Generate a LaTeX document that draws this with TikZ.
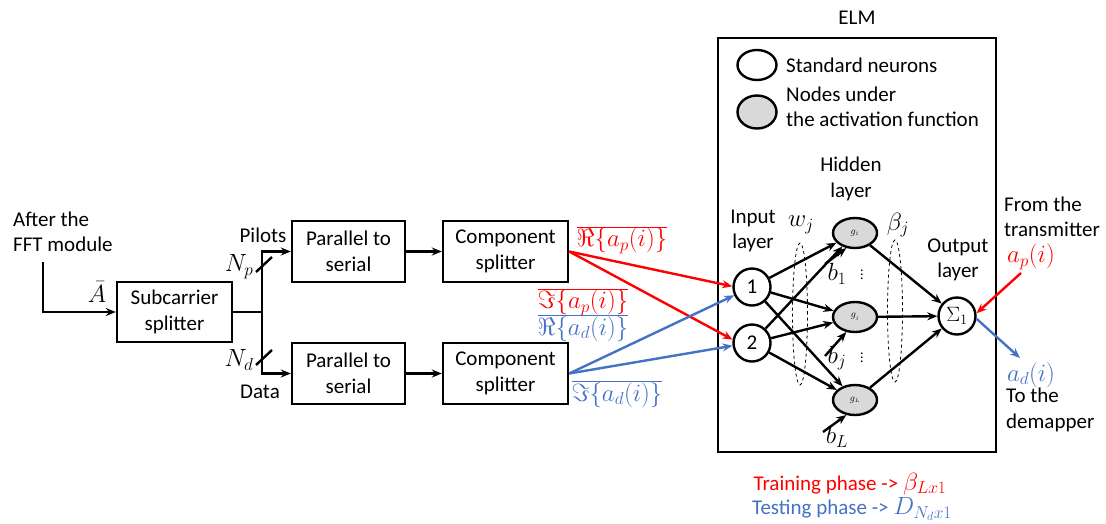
\documentclass[tikz,border=0pt]{standalone}
\usepackage{fontspec}
\setmainfont{Carlito}
\usetikzlibrary{arrows.meta,shapes.geometric}
\definecolor{myblue}{RGB}{68,114,196}
\definecolor{hidgray}{RGB}{217,217,217}
\begin{document}
\begin{tikzpicture}[x=1pt,y=-1pt,
  every node/.style={font=\fontsize{21}{25.5}\selectfont},
  box/.style={draw,line width=2.4pt,align=center,inner sep=0pt,minimum height=61pt},
  ln/.style={line width=2.4pt},
  ar/.style={-{Stealth[length=10pt,width=8pt]},line width=2.4pt},
  neu/.style={draw,line width=2.4pt,circle,minimum size=37pt,inner sep=0pt},
  hid/.style={draw,line width=2.4pt,ellipse,fill=hidgray,minimum width=44pt,minimum height=30pt,inner sep=0pt,font=\fontsize{10}{12}\selectfont},
  dash ell/.style={draw,dashed,line width=0.8pt,ellipse,minimum width=15pt,minimum height=142pt,inner sep=0pt},
  lbl/.style={inner sep=1pt},
  mth/.style={inner sep=1pt,font=\fontsize{23}{27}\selectfont},
  dts/.style={inner sep=0pt,font=\fontsize{14}{16}\selectfont}
]
\useasboundingbox (0,0) rectangle (1106,523);

% left input
\node[lbl,anchor=west,align=left] (fftlbl) at (12,232) {After the\\FFT module};
\coordinate (fftin) at (43,262);
\node[box,minimum width=115pt,minimum height=60pt] (ss) at (174.5,312) {Subcarrier\\splitter};
\draw[ar] (fftin) |- (ss.west);
\node[mth] (abar) at (97,292) {$\bar{A}$};

% branching
\coordinate (j) at (262,312);
\node[box,minimum width=113pt] (ps1) at (348.5,251.5) {Parallel to\\serial};
\node[box,minimum width=113pt] (ps2) at (348.5,373.5) {Parallel to\\serial};
\node[box,minimum width=125pt] (cs1) at (505.5,251.5) {Component\\splitter};
\node[box,minimum width=125pt] (cs2) at (505.5,373.5) {Component\\splitter};
\draw[ln] (ss.east) -- (j);
\draw[ar] (j) |- (ps1.west);
\draw[ar] (j) |- (ps2.west);
\draw[ar] (ps1.east) -- (cs1.west);
\draw[ar] (ps2.east) -- (cs2.west);

% slashes and labels
\coordinate (s1a) at (256,272); \coordinate (s1b) at (272,257);
\coordinate (s2a) at (256,365); \coordinate (s2b) at (272,350);
\draw[ln] (s1a) -- (s1b);
\draw[ln] (s2a) -- (s2b);
\node[mth] (nplbl) at (239,267) {$N_p$};
\node[mth] (ndlbl) at (239,360) {$N_d$};
\node[lbl] (pilots) at (263,235) {Pilots};
\node[lbl] (data) at (260,392) {Data};

% ELM box
\node[draw,line width=2.4pt,minimum width=278pt,minimum height=414pt,inner sep=0pt] (elm) at (857,245) {};
\node[lbl] (elmlbl) at (857,18) {ELM};

% legend
\node[neu,ellipse,minimum width=39pt,minimum height=30pt] (legw) at (757,65) {};
\node[hid,minimum width=39pt,minimum height=33pt] (legg) at (757,112) {};
\node[lbl,anchor=west] (legwt) at (785,65) {Standard neurons};
\node[lbl,anchor=west,align=left] (leggt) at (785,107) {Nodes under\\the activation function};

% layer labels
\node[lbl,align=center] (hidlbl) at (851,179) {Hidden\\layer};
\node[lbl,align=center] (inlbl) at (753,231) {Input\\layer};
\node[lbl,align=center] (outlbl) at (958,260) {Output\\layer};

% neurons
\node[neu] (n1) at (752,287) {1};
\node[neu] (n2) at (752,343) {2};
\node[hid] (g1) at (855,233) {$g_{\scriptscriptstyle 1}$};
\node[hid] (gj) at (855,317) {$g_{\scriptscriptstyle j}$};
\node[hid] (gL) at (855,400) {$g_{\scriptscriptstyle L}$};
\node[neu] (sig) at (957,316) {$\Sigma_1$};

\foreach \a in {n1,n2}{
  \foreach \b in {g1,gj,gL}{
    \draw[ar] (\a) -- (\b);
  }
}
\foreach \b in {g1,gj,gL}{
  \draw[ar] (\b) -- (sig);
}

% dashed ellipses and weight labels
\node[dash ell] (wel) at (800,314) {};
\node[dash ell] (bel) at (895,311) {};
\node[mth] (wlbl) at (801,225) {$w_j$};
\node[mth] (betalbl) at (898,225) {$\beta_j$};

% biases
\coordinate (b1s) at (825,264);
\coordinate (bjs) at (825,356);
\coordinate (bLs) at (823,432);
\draw[ar] (b1s) -- (g1.240);
\draw[ar] (bjs) -- (gj.240);
\draw[ar] (bLs) -- (gL.240);
\node[mth] (b1lbl) at (837,274) {$b_1$};
\node[mth] (bjlbl) at (837,358) {$b_j$};
\node[mth] (bLlbl) at (837,437) {$b_L$};
\node[dts] (dots1) at (862,272) {$\vdots$};
\node[dts] (dots2) at (862,355) {$\vdots$};

% red / blue signals
\draw[ar,red] (cs1.east) -- (n1.178);
\draw[ar,red] (cs1.east) -- (n2.170);
\draw[ar,myblue] (cs2.east) -- (n1.205);
\draw[ar,myblue] (cs2.east) -- (n2.188);
\node[mth,red] (rap) at (622,240) {$\overline{\Re\{a_p(i)\}}$};
\node[mth,red] (iap) at (583,302) {$\overline{\Im\{a_p(i)\}}$};
\node[mth,myblue] (rad) at (583,328) {$\overline{\Re\{a_d(i)\}}$};
\node[mth,myblue] (iad) at (617,394) {$\overline{\Im\{a_d(i)\}}$};

% right side
\node[lbl,anchor=west,align=left] (fromtx) at (1003,217) {From the\\transmitter};
\node[mth,red] (aplbl) at (1031,257) {$a_p(i)$};
\coordinate (apin) at (1021,273);
\draw[ar,red] (apin) -- (sig.8);
\coordinate (adout) at (1020,358);
\draw[ar,myblue] (sig.-8) -- (adout);
\node[mth,myblue] (adlbl) at (1031,375) {$a_d(i)$};
\node[lbl,anchor=west,align=left] (todem) at (1005,410) {To the\\demapper};

% bottom
\node[lbl,red] (train) at (850,484) {Training phase -> {\fontsize{23}{27}\selectfont$\beta_{Lx1}$}};
\node[lbl,myblue] (test) at (852,509) {Testing phase -> {\fontsize{23}{27}\selectfont$D_{N_dx1}$}};
\end{tikzpicture}
\end{document}
